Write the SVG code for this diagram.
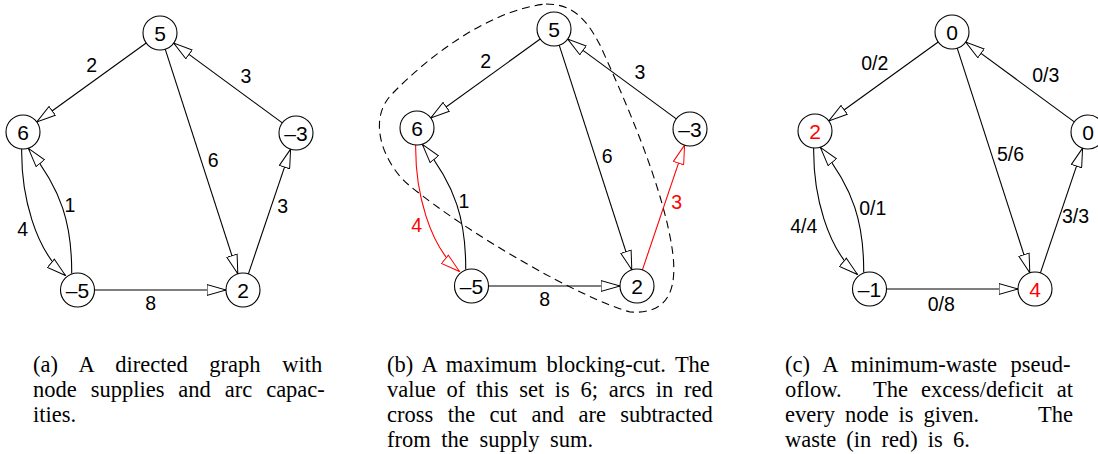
<svg xmlns="http://www.w3.org/2000/svg" width="1098" height="454" viewBox="0 0 1098 454">
<defs>
<marker id="ah" viewBox="0 0 20 12" refX="19.5" refY="6" markerWidth="20" markerHeight="12" markerUnits="userSpaceOnUse" orient="auto">
<path d="M0.5,0.6 L19.5,6 L0.5,11.4 Z" fill="#fff" stroke="#000" stroke-width="1"/>
</marker>
<marker id="ahr" viewBox="0 0 20 12" refX="19.5" refY="6" markerWidth="20" markerHeight="12" markerUnits="userSpaceOnUse" orient="auto">
<path d="M0.5,0.6 L19.5,6 L0.5,11.4 Z" fill="#fff" stroke="#f00" stroke-width="1"/>
</marker>
</defs>
<style>
.n circle{fill:#fff;stroke:#000;stroke-width:1.1}
.n text{font-family:"Liberation Sans",Arial,sans-serif;font-size:21px;text-anchor:middle;fill:#000}
.n text.r{fill:#f00}
.e{fill:none;stroke:#000;stroke-width:1.1;marker-end:url(#ah)}
.e.r{stroke:#f00;marker-end:url(#ahr)}
.lb{font-family:"Liberation Sans",Arial,sans-serif;font-size:19.5px;text-anchor:middle;fill:#000}
.lb.r{fill:#f00}
.cut{fill:none;stroke:#000;stroke-width:1.1;stroke-dasharray:8 5}
.cap{font-family:"Liberation Serif","Times New Roman",serif;font-size:22.5px;fill:#000}
</style>

<!-- Panel (a) -->
<g id="panel-a">
<g id="a-edges">
<path class="e" d="M146.2,43 L36.8,122"/>
<path class="e" d="M165.2,49.2 L237.8,273.8"/>
<path class="e" d="M282.3,122.9 L173.7,43.1"/>
<path class="e" d="M248.4,273.9 L290.6,149.1"/>
<path class="e" d="M94.5,290 L226,290"/>
<path class="e" d="M21.7,148.5 C21,195 35,250 65.5,275.5"/>
<path class="e" d="M71.7,273.5 C72,225 62,190 28.4,148.4"/>
<text class="lb" x="91.7" y="72">2</text>
<text class="lb" x="246" y="83">3</text>
<text class="lb" x="213.3" y="167">6</text>
<text class="lb" x="282.7" y="213">3</text>
<text class="lb" x="70" y="212">1</text>
<text class="lb" x="22.7" y="236.3">4</text>
<text class="lb" x="150.7" y="310.3">8</text>
</g>
<g id="a-n5" class="n"><circle cx="160" cy="33" r="17"/><text x="160" y="40.5">5</text></g>
<g id="a-n6" class="n"><circle cx="23" cy="132" r="17"/><text x="23" y="139.5">6</text></g>
<g id="a-nm3" class="n"><circle cx="296" cy="133" r="17"/><text x="296" y="140.5">–3</text></g>
<g id="a-nm5" class="n"><circle cx="77.5" cy="290" r="17"/><text x="77.5" y="297.5">–5</text></g>
<g id="a-n2" class="n"><circle cx="243" cy="290" r="17"/><text x="243" y="297.5">2</text></g>
</g>

<!-- Panel (b) -->
<g id="panel-b">
<path id="b-cut" class="cut" d="M546,4 C572,4 586,18 600,45 C625,100 665,190 673,255 C678,300 660,314 630,312 C580,298 470,235 410,186 C385,166 365,120 393,93 C430,55 490,10 546,4 Z"/>
<g transform="translate(394,-4)">
<g id="b-edges">
<path class="e" d="M146.2,43 L36.8,122"/>
<path class="e" d="M165.2,49.2 L237.8,273.8"/>
<path class="e" d="M282.3,122.9 L173.7,43.1"/>
<path class="e r" d="M248.4,273.9 L290.6,149.1"/>
<path class="e" d="M94.5,290 L226,290"/>
<path class="e r" d="M21.7,148.5 C21,195 35,250 65.5,275.5"/>
<path class="e" d="M71.7,273.5 C72,225 62,190 28.4,148.4"/>
<text class="lb" x="91.7" y="72">2</text>
<text class="lb" x="246" y="83">3</text>
<text class="lb" x="213.3" y="167">6</text>
<text class="lb r" x="282.7" y="213">3</text>
<text class="lb" x="70" y="212">1</text>
<text class="lb r" x="22.7" y="236.3">4</text>
<text class="lb" x="150.7" y="310.3">8</text>
</g>
<g id="b-n5" class="n"><circle cx="160" cy="33" r="17"/><text x="160" y="40.5">5</text></g>
<g id="b-n6" class="n"><circle cx="23" cy="132" r="17"/><text x="23" y="139.5">6</text></g>
<g id="b-nm3" class="n"><circle cx="296" cy="133" r="17"/><text x="296" y="140.5">–3</text></g>
<g id="b-nm5" class="n"><circle cx="77.5" cy="290" r="17"/><text x="77.5" y="297.5">–5</text></g>
<g id="b-n2" class="n"><circle cx="243" cy="290" r="17"/><text x="243" y="297.5">2</text></g>
</g>
</g>

<!-- Panel (c) -->
<g id="panel-c" transform="translate(792,-1)">
<g id="c-edges">
<path class="e" d="M146.2,43 L36.8,122"/>
<path class="e" d="M165.2,49.2 L237.8,273.8"/>
<path class="e" d="M282.3,122.9 L173.7,43.1"/>
<path class="e" d="M248.4,273.9 L290.6,149.1"/>
<path class="e" d="M94.5,290 L226,290"/>
<path class="e" d="M21.7,148.5 C21,195 35,250 65.5,275.5"/>
<path class="e" d="M71.7,273.5 C72,225 62,190 28.4,148.4"/>
<text class="lb" x="82.7" y="71.3">0/2</text>
<text class="lb" x="253.8" y="83">0/3</text>
<text class="lb" x="218.5" y="162.3">5/6</text>
<text class="lb" x="283.5" y="224">3/3</text>
<text class="lb" x="80.7" y="216.3">0/1</text>
<text class="lb" x="11.8" y="234">4/4</text>
<text class="lb" x="149.3" y="312">0/8</text>
</g>
<g id="c-n0a" class="n"><circle cx="160" cy="33" r="17"/><text x="160" y="40.5">0</text></g>
<g id="c-n2" class="n"><circle cx="23" cy="132" r="17"/><text class="r" x="23" y="139.5">2</text></g>
<g id="c-n0b" class="n"><circle cx="296" cy="133" r="17"/><text x="296" y="140.5">0</text></g>
<g id="c-nm1" class="n"><circle cx="77.5" cy="290" r="17"/><text x="77.5" y="297.5">–1</text></g>
<g id="c-n4" class="n"><circle cx="243" cy="290" r="17"/><text class="r" x="243" y="297.5">4</text></g>
</g>

<!-- Captions -->
<g id="captions" class="cap">
<text x="33" y="372" word-spacing="16.1">(a) A directed graph with</text>
<text x="33" y="397" word-spacing="8.3">node supplies and arc capac-</text>
<text x="33" y="422">ities.</text>
<text x="387" y="372" word-spacing="3.8">(b) A maximum blocking-cut. The</text>
<text x="387" y="397" word-spacing="5.1">value of this set is 6; arcs in red</text>
<text x="387" y="422" word-spacing="8.8">cross the cut and are subtracted</text>
<text x="387" y="447" word-spacing="5">from the supply sum.</text>
<text x="785" y="372" word-spacing="7.9">(c) A minimum-waste pseud-</text>
<text x="785" y="397">oflow.</text>
<text x="873" y="397" word-spacing="7.5">The excess/deficit at</text>
<text x="785" y="422" word-spacing="4.3">every node is given.</text>
<text x="1073" y="422" text-anchor="end">The</text>
<text x="785" y="447" word-spacing="4.5">waste (in red) is 6.</text>
</g>
</svg>
